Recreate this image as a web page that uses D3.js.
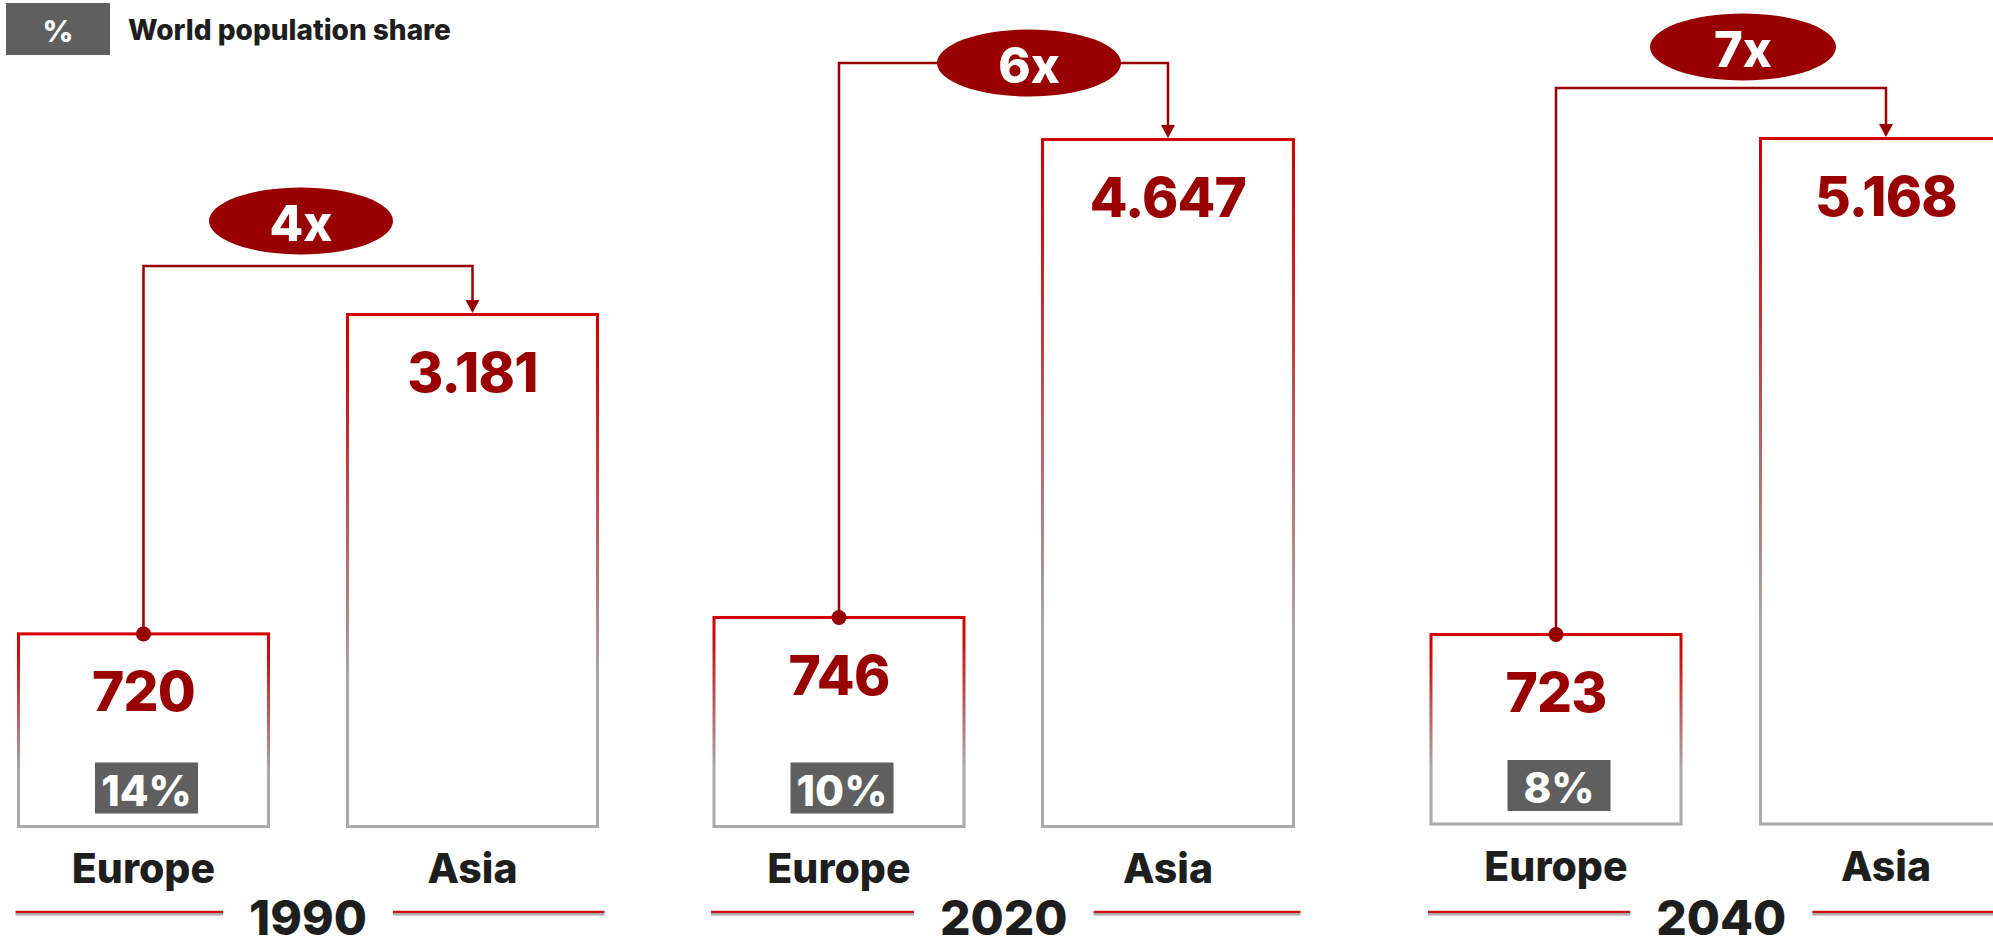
<!DOCTYPE html>
<html>
<head>
<meta charset="utf-8">
<script src="https://cdn.jsdelivr.net/npm/d3@7"></script>
<style>
  html, body { margin: 0; padding: 0; background: #ffffff; }
  svg { display: block; }
  text { font-family: Inter, "Open Sans", Roboto, sans-serif; font-weight: 800; }
</style>
</head>
<body>
<svg id="chart" width="1993" height="937"></svg>
<script>
// Population (millions) of Europe and Asia, with Europe's share of world population
const years = ["1990", "2020", "2040"];
const regions = ["Europe", "Asia"];
const europe = [720, 746, 723];
const asia = [3181, 4647, 5168];
const europeShare = [14, 10, 8];
const multiples = [4, 6, 7];
const legendSymbol = "%";
const legendLabel = "World population share";

// Panel geometry: box columns, baseline, scale floor and the ratio bubble
const panels = [
  { euX: 18.5,   euW: 250, asX: 347.5,  asW: 250, base: 826.5, top: 314.5, floor: -764, connY: 266, bx: 301,  by: 221, rx: 92 },
  { euX: 714,    euW: 250, asX: 1042.5, asW: 251, base: 826.5, top: 139.5, floor: -960, connY: 63,  bx: 1029, by: 63,  rx: 92 },
  { euX: 1431,   euW: 250, asX: 1760.5, asW: 251, base: 824,   top: 138.5, floor: -975, connY: 88,  bx: 1743, by: 47,  rx: 93 }
];

const RED = "#990000";
const DARK = "#1e1e1e";
const GREY_BOX = "#5f5f5f";

const fmt = d3.formatLocale({ decimal: ",", thousands: ".", grouping: [3], currency: ["", ""] }).format(",d");

const svg = d3.select("#chart");

// Red-to-grey stroke used on every box
const defs = svg.append("defs");
const grad = defs.append("linearGradient")
  .attr("id", "boxStroke")
  .attr("x1", 0).attr("y1", 0).attr("x2", 0).attr("y2", 1);
grad.append("stop").attr("offset", "0%").attr("stop-color", "#d40000");
grad.append("stop").attr("offset", "12%").attr("stop-color", "#cc1010");
grad.append("stop").attr("offset", "72%").attr("stop-color", "#aaaaaa");
grad.append("stop").attr("offset", "100%").attr("stop-color", "#aaaaaa");

// Legend
svg.append("rect").attr("x", 6).attr("y", 3).attr("width", 104).attr("height", 52).attr("fill", GREY_BOX);
svg.append("text").attr("x", 58).attr("y", 41.5).attr("text-anchor", "middle")
  .attr("fill", "#ffffff").attr("font-size", 30).attr("font-weight", 700).text(legendSymbol);
svg.append("text").attr("x", 128).attr("y", 39.5)
  .attr("fill", DARK).attr("font-size", 28).attr("font-weight", 650).text(legendLabel);

panels.forEach((p, i) => {
  const g = svg.append("g").attr("class", "panel");
  const y = d3.scaleLinear().domain([p.floor, asia[i]]).range([p.base, p.top]);

  const bars = [
    { region: regions[0], value: europe[i], x: p.euX, w: p.euW },
    { region: regions[1], value: asia[i],   x: p.asX, w: p.asW }
  ];

  // Boxes
  g.selectAll("rect.bar").data(bars).join("rect")
    .attr("class", "bar")
    .attr("x", d => d.x)
    .attr("y", d => y(d.value))
    .attr("width", d => d.w)
    .attr("height", d => p.base - y(d.value))
    .attr("fill", "none")
    .attr("stroke", "url(#boxStroke)")
    .attr("stroke-width", 3);

  // Value labels
  g.selectAll("text.value").data(bars).join("text")
    .attr("class", "value")
    .attr("x", d => d.x + d.w / 2)
    .attr("y", d => y(d.value) + 77.5)
    .attr("text-anchor", "middle")
    .attr("fill", RED)
    .attr("font-size", 55)
    .attr("letter-spacing", -0.8)
    .text(d => fmt(d.value));

  // Region labels
  g.selectAll("text.region").data(bars).join("text")
    .attr("class", "region")
    .attr("x", d => d.x + d.w / 2)
    .attr("y", p.base + 56.5)
    .attr("text-anchor", "middle")
    .attr("fill", DARK)
    .attr("font-size", 41)
    .text(d => d.region);

  // Europe share badge
  const euCx = p.euX + p.euW / 2;
  g.append("rect")
    .attr("x", euCx + 3 - 51.5).attr("y", p.base - 13 - 51)
    .attr("width", 103).attr("height", 51)
    .attr("fill", GREY_BOX);
  g.append("text")
    .attr("x", euCx + 3).attr("y", p.base - 21)
    .attr("text-anchor", "middle")
    .attr("fill", "#ffffff")
    .attr("font-size", 42)
    .text(europeShare[i] + "%");

  // Connector from Europe to Asia with arrow
  const asCx = p.asX + p.asW / 2;
  const euTop = y(europe[i]) - 1.5;
  const asTop = y(asia[i]) - 1.5;
  const arrowH = 13, arrowW = 14;
  g.append("path")
    .attr("d", d3.line()([[euCx, euTop], [euCx, p.connY], [asCx, p.connY], [asCx, asTop - arrowH + 1]]))
    .attr("fill", "none")
    .attr("stroke", RED)
    .attr("stroke-width", 2.5);
  g.append("path")
    .attr("d", `M${asCx - arrowW / 2},${asTop - arrowH}L${asCx + arrowW / 2},${asTop - arrowH}L${asCx},${asTop}Z`)
    .attr("fill", RED);
  g.append("circle").attr("cx", euCx).attr("cy", euTop + 1.5).attr("r", 7.5).attr("fill", RED);

  // Ratio bubble
  g.append("ellipse")
    .attr("cx", p.bx).attr("cy", p.by).attr("rx", p.rx).attr("ry", 33.5)
    .attr("fill", RED);
  g.append("text")
    .attr("x", p.bx).attr("y", p.by + 20)
    .attr("text-anchor", "middle")
    .attr("fill", "#ffffff")
    .attr("font-size", 49)
    .text(multiples[i] + "x");

  // Year with side rules
  const left = p.euX - 3;
  const right = p.asX + p.asW + 7;
  const cx = (p.euX + p.asX + p.asW) / 2;
  const yearText = g.append("text")
    .attr("x", cx).attr("y", 934.5)
    .attr("text-anchor", "middle")
    .attr("fill", DARK)
    .attr("font-size", 48)
    .text(years[i]);
  const tw = yearText.node().getComputedTextLength();
  const gap = 26;
  const segs = [[left, cx - tw / 2 - gap], [cx + tw / 2 + gap, right]];
  segs.forEach(([a, b]) => {
    g.append("line").attr("x1", a).attr("x2", b).attr("y1", 914.2).attr("y2", 914.2)
      .attr("stroke", "#aaaaaa").attr("stroke-width", 2.4);
    g.append("line").attr("x1", a).attr("x2", b).attr("y1", 911.9).attr("y2", 911.9)
      .attr("stroke", "#cc1414").attr("stroke-width", 2.4);
  });
});
</script>
</body>
</html>
